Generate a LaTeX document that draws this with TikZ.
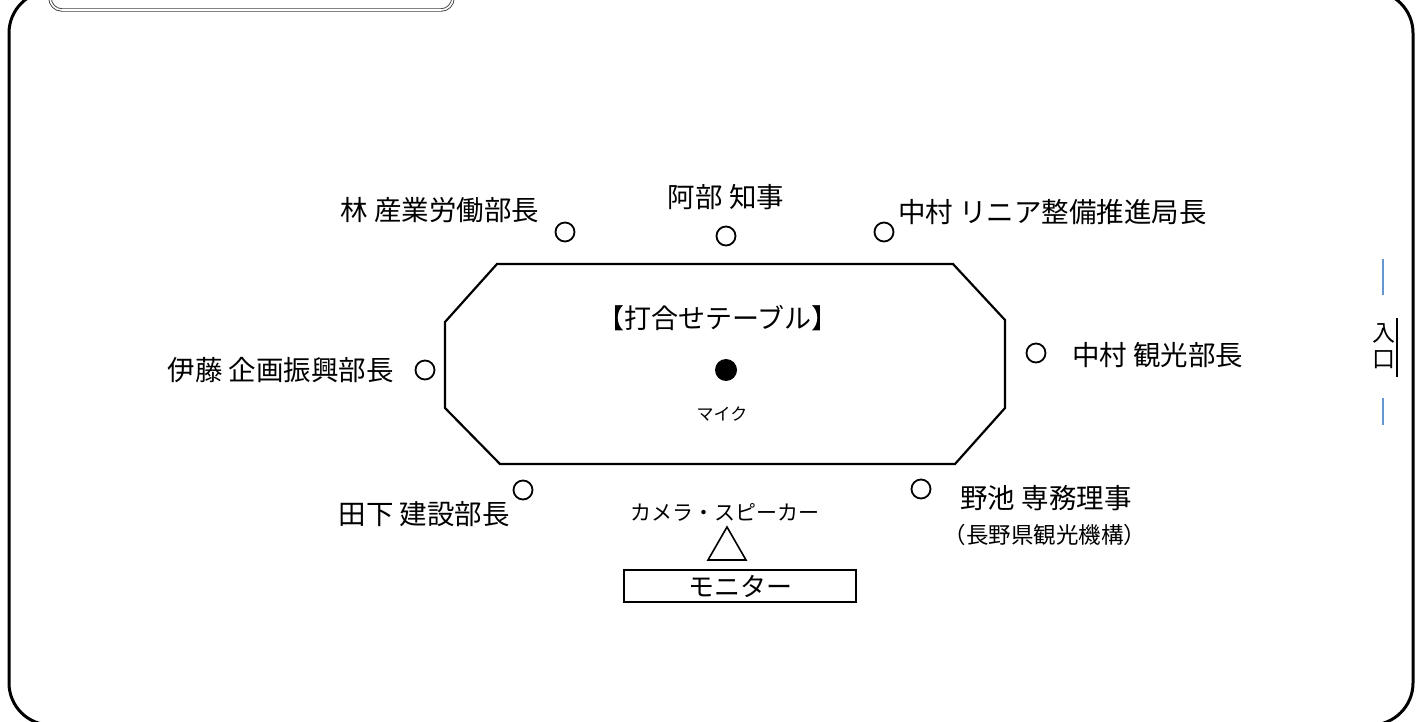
\documentclass[tikz,border=0pt]{standalone}
\usepackage{fontspec}
\setmainfont{Noto Sans CJK JP}
\definecolor{doorblue}{RGB}{100,150,210}
\begin{document}
\begin{tikzpicture}[x=1pt,y=-1pt,
  seat/.style={circle,draw,line width=1.8pt,minimum size=19pt,inner sep=0pt},
  lbl/.style={font=\fontsize{27.5}{32}\selectfont,inner sep=0pt},
  small/.style={font=\fontsize{21}{24}\selectfont,inner sep=0pt},
  tiny/.style={font=\fontsize{17}{20}\selectfont,inner sep=0pt}]
\useasboundingbox (0,0) rectangle (1422,722);
% outer frame
\draw[line width=3pt, rounded corners=42pt] (9,-9) rectangle (1413,725);
% top-left title box
\draw[rounded corners=12pt, draw=black!75, double=white, double distance=1.6pt, line width=0.9pt] (50,-40) rectangle (453,10);
% table
\draw[line width=2.2pt, line join=miter] (497,264) -- (953,264) -- (1005,320) -- (1005,408) -- (955,464) -- (500,464) -- (445,408) -- (445,322) -- cycle;
\node[font=\fontsize{27}{32}\selectfont,inner sep=0pt] (table) at (718,318) {【打合せテーブル】};
\node[circle,fill=black,minimum size=22pt,inner sep=0pt] (mic) at (726,370) {};
\node[tiny] (micl) at (722,414) {マイク};
% seats
\node[seat] (s1) at (565,232) {};
\node[seat] (s2) at (726,236) {};
\node[seat] (s3) at (884,232) {};
\node[seat] (s4) at (425,370) {};
\node[seat] (s5) at (1036,353) {};
\node[seat] (s6) at (523,490) {};
\node[seat] (s7) at (921,489) {};
% labels
\node[lbl] (l1) at (440,210) {林 産業労働部長};
\node[lbl] (l2) at (726,197) {阿部 知事};
\node[lbl,anchor=west] (l3) at (898,212) {中村 リニア整備推進局長};
\node[lbl,anchor=east] (l4) at (394,370) {伊藤 企画振興部長};
\node[lbl,anchor=west] (l5) at (1072,355) {中村 観光部長};
\node[lbl,anchor=east] (l6) at (510,514) {田下 建設部長};
\node[lbl] (l7) at (1046,498) {野池 専務理事};
\node[font=\fontsize{22.5}{26}\selectfont,inner sep=0pt] (l7b) at (1045,535) {（長野県観光機構）};
% camera and monitor
\node[small] (cam) at (725,512) {カメラ・スピーカー};
\draw[line width=1.6pt] (727,527) -- (746,560) -- (708,560) -- cycle;
\node[draw,line width=1.6pt,minimum width=232pt,minimum height=32pt,inner sep=0pt,font=\fontsize{26}{30}\selectfont] (mon) at (740,586) {モニター};
% entrance
\draw[doorblue,line width=1.5pt] (1383,259) -- (1383,295);
\draw[doorblue,line width=1.5pt] (1383,398) -- (1383,425);
\draw[line width=1.5pt] (1397,318) -- (1397,377);
\node[font=\fontsize{23}{26}\selectfont,inner sep=0pt,align=center] (door) at (1384,346) {入\\口};
\end{tikzpicture}
\end{document}
